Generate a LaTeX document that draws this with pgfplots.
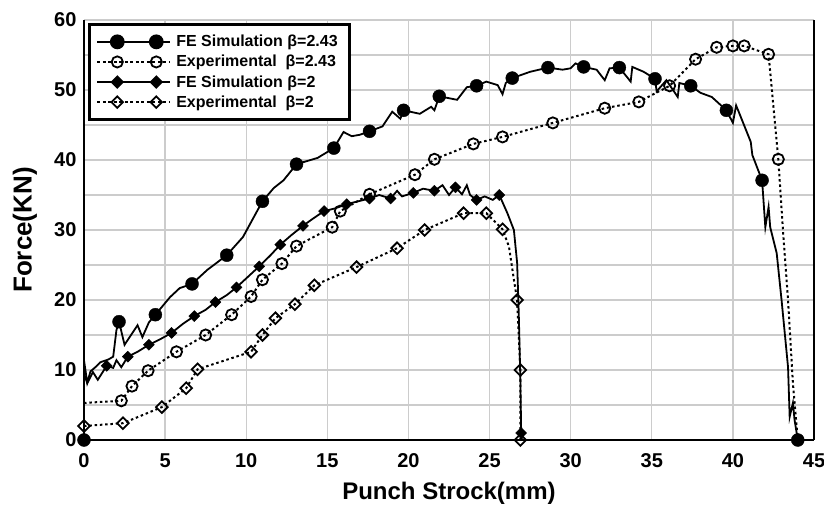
\documentclass[border=0pt]{standalone}
\usepackage{fontspec}
\setmainfont{Liberation Sans}
\usepackage{pgfplots}
\pgfplotsset{compat=1.18}
\begin{document}
\begin{tikzpicture}
\useasboundingbox (-84pt,-66pt) rectangle (740pt,440pt);
\begin{axis}[
 at={(0pt,0pt)}, anchor=south west,
 scale only axis, width=730pt, height=420pt,
 xmin=0, xmax=45, ymin=0, ymax=60,
 xtick={0,5,...,45}, ytick={0,10,...,60}, minor ytick={5,15,...,55},
 grid=both,
 major grid style={gray!40, line width=1.3pt},
 minor grid style={gray!40, line width=1.3pt},
 axis x line=bottom, axis y line=left,
 axis line style={-, line width=2.6pt, black},
 major tick length=0pt, minor tick length=0pt,
 /pgf/number format/assume math mode=true,
 ticklabel style={font=\bfseries\fontsize{20}{20}\selectfont},
 xticklabel style={yshift=-10pt},
 yticklabel style={xshift=-4pt},
 xlabel={Punch Strock(mm)}, ylabel={Force(KN)},
 every axis x label/.style={at={(axis description cs:0.5,0)}, anchor=center, yshift=-53pt, font=\bfseries\fontsize{24}{24}\selectfont},
 every axis y label/.style={at={(axis description cs:-0.0808,0.5)}, anchor=center, rotate=90, font=\bfseries\fontsize{26}{26}\selectfont},
 clip=false,
 legend image code/.code={\draw[#1, mark indices={2,4}] plot coordinates {(0pt,0pt)(20pt,0pt)(39pt,0pt)(59pt,0pt)(73pt,0pt)};},
 legend style={at={(axis description cs:0,1)}, anchor=north west, xshift=4pt, yshift=-3pt,
   draw=black, line width=2.6pt, font=\bfseries\fontsize{16}{19.5}\selectfont,
   inner xsep=7pt, inner ysep=9pt, row sep=3pt, cells={anchor=west},
   nodes={inner xsep=5pt}},
]
\draw[line width=2.6pt] (rel axis cs:1,0) -- (rel axis cs:1,1);

% Experimental beta=2.43 (line)
\addplot[forget plot, black, line width=2pt, dash pattern=on 2.5pt off 2.8pt] coordinates {
(0,5.3)(2.3,5.6)(2.96,7.7)(3.95,9.9)(5.7,12.6)(7.5,15.0)(9.1,17.9)(10.3,20.5)(11.0,22.9)(12.2,25.2)(13.1,27.7)(15.3,30.4)(15.8,32.7)(17.6,35.1)(20.4,37.9)(21.6,40.1)(24.0,42.3)(25.8,43.3)(28.9,45.3)(32.1,47.4)(34.2,48.3)(36.1,50.6)(37.7,54.4)(39.0,56.1)(40.0,56.3)(40.7,56.3)(42.2,55.1)(42.8,40.1)(43.1,29.5)(43.4,20.0)(43.7,8.1)(44.0,0)};
\addplot[forget plot, only marks, black, mark=o, mark size=5.6pt, mark options={solid, line width=1.8pt}] coordinates {
(2.3,5.6)(2.96,7.7)(3.95,9.9)(5.7,12.6)(7.5,15.0)(9.1,17.9)(10.3,20.5)(11.0,22.9)(12.2,25.2)(13.1,27.7)(15.3,30.4)(15.8,32.7)(17.6,35.1)(20.4,37.9)(21.6,40.1)(24.0,42.3)(25.8,43.3)(28.9,45.3)(32.1,47.4)(34.2,48.3)(36.1,50.6)(37.7,54.4)(39.0,56.1)(40.0,56.3)(40.7,56.3)(42.2,55.1)(42.8,40.1)};

% Experimental beta=2
\addplot[forget plot, black, line width=2pt, dash pattern=on 2.5pt off 2.8pt] coordinates {
(0,2.0)(2.4,2.4)(4.8,4.7)(6.3,7.4)(7.0,10.1)(10.3,12.6)(11.0,15.0)(11.8,17.4)(13.0,19.4)(14.2,22.1)(16.8,24.7)(19.3,27.4)(21.0,30.0)(23.4,32.4)(24.8,32.4)(25.8,30.1)(26.2,27.6)(26.5,22.9)(26.7,20.0)(26.9,10.0)(26.9,0)};
\addplot[forget plot, only marks, black, mark=square, mark size=4.1pt, mark options={solid, rotate=45, line width=1.8pt}] coordinates {
(0,2.0)(2.4,2.4)(4.8,4.7)(6.3,7.4)(7.0,10.1)(10.3,12.6)(11.0,15.0)(11.8,17.4)(13.0,19.4)(14.2,22.1)(16.8,24.7)(19.3,27.4)(21.0,30.0)(23.4,32.4)(24.8,32.4)(25.8,30.1)(26.7,20.0)(26.9,10.0)(26.9,0)};

% FE Simulation beta=2
\addplot[forget plot, black, line width=1.8pt] coordinates {
(0,0)(0,9.5)(0.2,8.1)(0.55,9.7)(0.85,8.6)(1.4,10.6)(1.8,10.3)(2.0,11.4)(2.3,10.4)(2.7,11.9)(3.3,12.6)(4.0,13.6)(4.7,14.4)(5.4,15.3)(6.1,16.6)(6.8,17.7)(7.5,18.6)(8.1,19.7)(8.8,20.7)(9.4,21.8)(10.1,23.3)(10.8,24.8)(11.5,26.4)(12.1,27.9)(12.8,29.3)(13.5,30.6)(14.1,31.6)(14.8,32.7)(15.5,33.1)(16.2,33.7)(16.9,34.1)(17.6,34.5)(18.2,35.0)(18.9,34.5)(19.3,35.6)(19.6,34.8)(20.3,35.3)(20.9,35.9)(21.6,35.6)(22.1,36.4)(22.5,35.0)(22.9,36.1)(23.3,35.1)(23.6,36.4)(23.8,35.0)(24.2,34.3)(24.7,34.8)(25.2,34.3)(25.6,35.0)(26.1,32.4)(26.5,30.0)(26.7,25.3)(26.8,18.1)(26.9,8.6)(26.95,1.0)(27.0,0)};
\addplot[forget plot, only marks, black, mark=square*, mark size=3.9pt, mark options={rotate=45}] coordinates {
(1.4,10.6)(2.7,11.9)(4.0,13.6)(5.4,15.3)(6.8,17.7)(8.1,19.7)(9.4,21.8)(10.8,24.8)(12.1,27.9)(13.5,30.6)(14.8,32.7)(16.2,33.7)(17.6,34.5)(18.9,34.5)(20.3,35.3)(21.6,35.6)(22.9,36.1)(24.2,34.3)(25.6,35.0)(26.95,1.0)};

% FE Simulation beta=2.43
\addplot[forget plot, black, line width=1.8pt] coordinates {
(0,0)(0,11.4)(0.2,8.2)(0.4,9.8)(0.7,10.4)(1.0,11.1)(1.5,11.5)(1.8,11.9)(2.0,15.7)(2.16,16.9)(2.5,13.6)(3.3,16.4)(3.6,14.7)(4.0,16.8)(4.4,17.9)(5.3,20.4)(5.9,21.7)(6.66,22.3)(7.6,24.3)(8.8,26.4)(9.8,29.0)(11.0,34.1)(11.7,36.0)(12.3,37.1)(13.1,39.4)(14.4,40.3)(15.4,41.7)(16.0,44.0)(16.5,43.4)(17.0,43.6)(17.6,44.1)(18.4,44.8)(19.0,46.9)(19.5,45.9)(19.7,47.1)(20.7,46.6)(21.4,47.6)(21.6,47.1)(21.9,49.1)(23.0,48.6)(23.6,50.4)(24.2,50.6)(24.8,51.2)(25.5,50.7)(25.8,49.4)(26.0,51.0)(26.4,51.7)(27.5,52.6)(28.6,53.2)(29.5,52.9)(30.0,53.1)(30.3,53.8)(30.8,53.3)(31.6,52.9)(32.1,51.4)(32.4,53.1)(33.0,53.2)(33.7,51.2)(33.8,53.3)(34.5,52.6)(35.2,51.6)(35.3,49.8)(35.9,51.4)(36.6,49.0)(36.7,51.0)(37.4,50.6)(38.0,49.6)(38.7,49.0)(39.6,47.1)(40.0,45.3)(40.2,47.8)(41.1,42.6)(41.2,40.7)(41.8,37.1)(42.0,30.4)(42.2,33.3)(42.3,30.4)(42.7,26.7)(43.0,20.0)(43.4,10.4)(43.5,3.3)(43.7,5.3)(43.8,2.9)(44.0,0)};
\addplot[forget plot, only marks, black, mark=*, mark size=6.5pt] coordinates {
(0,0)(2.16,16.9)(4.4,17.9)(6.66,22.3)(8.8,26.4)(11.0,34.1)(13.1,39.4)(15.4,41.7)(17.6,44.1)(19.7,47.1)(21.9,49.1)(24.2,50.6)(26.4,51.7)(28.6,53.2)(30.8,53.3)(33.0,53.2)(35.2,51.6)(37.4,50.6)(39.6,47.1)(41.8,37.1)(44.0,0)};

\addlegendimage{black, line width=1.8pt, mark=*, mark size=6.5pt}
\addlegendimage{black, line width=2pt, dash pattern=on 3pt off 2.5pt, mark=o, mark size=5.6pt, mark options={solid, line width=1.8pt}}
\addlegendimage{black, line width=1.8pt, mark=square*, mark size=3.9pt, mark options={rotate=45}}
\addlegendimage{black, line width=2pt, dash pattern=on 3pt off 2.5pt, mark=square, mark size=4.1pt, mark options={solid, rotate=45, line width=1.8pt}}
\legend{FE Simulation β=2.43, Experimental\ \ β=2.43, FE Simulation β=2, Experimental\ \ β=2}
\end{axis}
\end{tikzpicture}
\end{document}
